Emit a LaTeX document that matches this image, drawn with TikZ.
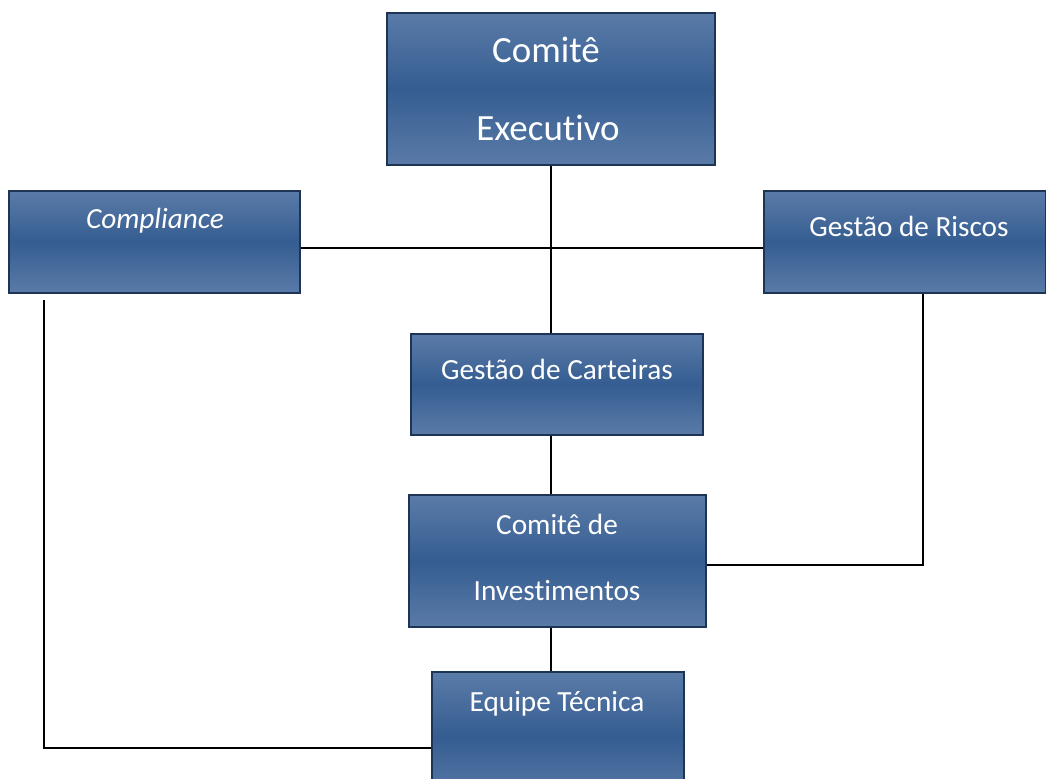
\documentclass[tikz,border=0pt]{standalone}
\usepackage{fontspec}
\setmainfont[Ligatures=NoCommon]{Carlito}
\usepackage{xcolor}
\usepackage{tikz}
\usetikzlibrary{positioning,calc}

\definecolor{boxlight}{RGB}{90,123,168}
\definecolor{boxdark}{RGB}{53,93,145}
\definecolor{boxline}{RGB}{30,52,84}

\begin{document}
\begin{tikzpicture}[x=0.025cm, y=-0.025cm]
            \tikzstyle{unitbox} = [rectangle, draw=boxline, line width=1.1pt, inner sep=0pt,
                top color=boxlight, bottom color=boxlight, middle color=boxdark];
            \tikzstyle{boxtext} = [text=white, inner sep=0pt, anchor=base, font=\fontsize{20.8}{25}\selectfont];
            \tikzstyle{bigtext} = [boxtext, font=\fontsize{26.3}{32}\selectfont];
            \tikzstyle{link} = [line width=1pt, black];
            \useasboundingbox (0,0) rectangle (1046,778);

            \node [unitbox, minimum width=328*0.025cm, minimum height=152*0.025cm] (ce) at (551,89) {};
            \node [unitbox, minimum width=291*0.025cm, minimum height=102*0.025cm] (cp) at (154.5,242) {};
            \node [unitbox, minimum width=282*0.025cm, minimum height=102*0.025cm] (gr) at (905,242) {};
            \node [unitbox, minimum width=292*0.025cm, minimum height=101*0.025cm] (gc) at (557,384.5) {};
            \node [unitbox, minimum width=297*0.025cm, minimum height=132*0.025cm] (ci) at (557.5,561) {};
            \node [unitbox, minimum width=252*0.025cm, minimum height=130*0.025cm] (et) at (558,737) {};

            \node [bigtext] (ce1) at (546,62) {Comitê};
            \node [bigtext] (ce2) at (548,140) {Executivo};
            \node [boxtext] (cp1) at (155,228) {\itshape Compliance};
            \node [boxtext] (gr1) at (909,236) {Gestão de Riscos};
            \node [boxtext] (gc1) at (557,379) {Gestão de Carteiras};
            \node [boxtext] (ci1) at (557,534) {Comitê de};
            \node [boxtext] (ci2) at (557,600) {Investimentos};
            \node [boxtext] (et1) at (557,711) {Equipe Técnica};

            \coordinate (grc) at (923,565);
            \coordinate (cpt) at (44,300);
            \coordinate (cpc) at (44,748);

            \draw [link] (ce.south -| 551,0) -- (gc.north -| 551,0);
            \draw [link] ($(cp.east)+(0,6)$) -- ($(gr.west)+(0,6)$);
            \foreach \a/\b in {gc/ci, ci/et}
                \draw [link] (\a.south -| 551,0) -- (\b.north -| 551,0);
            \draw [link] (gr.south -| grc) -- (grc) -- (grc -| ci.east);
            \draw [link] (cpt) -- (cpc) -- (cpc -| et.west);
        \end{tikzpicture}
\end{document}
